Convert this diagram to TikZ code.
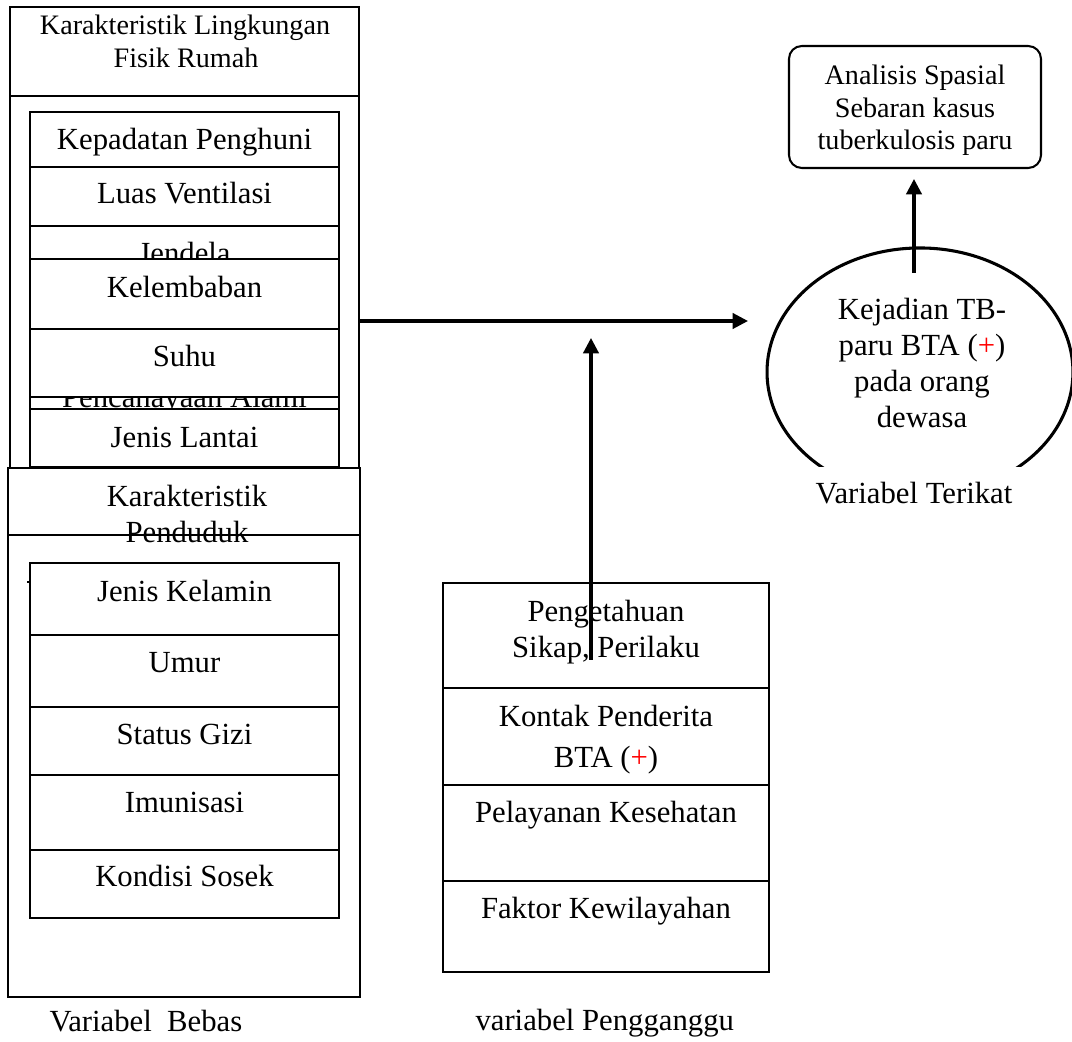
\documentclass[tikz,border=0pt]{standalone}
\usepackage{fontspec}
\setmainfont{Liberation Serif}
\usetikzlibrary{arrows.meta,fit,shapes.geometric}

\begin{document}
\begin{tikzpicture}[x=0.390625pt, y=-0.390625pt,
  box/.style={draw, line width=0.75pt, fill=white, inner sep=0pt},
  txt/.style={anchor=base, inner sep=0pt, font=\fontsize{12}{14}\selectfont},
  txts/.style={anchor=base, inner sep=0pt, font=\fontsize{11}{13}\selectfont},
  flow/.style={line width=1.2pt, -{Triangle[length=6pt,width=6pt]}},
  rule/.style={line width=0.75pt},
]
\useasboundingbox[fill=white] (0,0) rectangle (1072,1042);

% ---------- physical environment of the house ----------
\node[box, fit={(10,7)(359,470)}] (envbox) {};
\draw[rule] (10,96) -- (359,96);
\node[txts] (envhead1) at (185,35) {Karakteristik Lingkungan};
\node[txts] (envhead2) at (186,68) {Fisik Rumah};

\node[box, fit={(30,112)(339,167)}] (kepadatan) {};
\node[txt] (tkepadatan) at (184.5,150) {Kepadatan Penghuni};
\node[box, fit={(30,167)(339,226)}] (ventilasi) {};
\node[txt] (tventilasi) at (184.5,204) {Luas Ventilasi};
\node[box, fit={(30,226)(339,286)}] (jendela) {};
\node[txt] (tjendela) at (184.5,264) {Jendela};
\node[box, fit={(30,370)(339,430)}] (cahaya) {};
\node[txt] (tcahaya) at (184.5,408) {Pencahayaan Alami};
\node[box, fit={(30,259)(339,329)}] (lembab) {};
\node[txt] (tlembab) at (184.5,298) {Kelembaban};
\node[box, fit={(30,329)(339,397)}] (suhu) {};
\node[txt] (tsuhu) at (184.5,367) {Suhu};
\node[box, fit={(30,409)(339,467)}] (lantai) {};
\node[txt] (tlantai) at (184.5,448) {Jenis Lantai};

% ---------- population characteristics ----------
\node[box, fit={(8,468)(360,997)}] (popbox) {};
\node[txt] (pophead1) at (187,507) {Karakteristik};
\node[txt] (pophead2) at (187,543) {Penduduk};
\draw[rule] (8,535) -- (360,535);

\node[box, fit={(30,563)(339,635)}] (kelamin) {};
\node[txt] (tkelamin) at (184.5,602) {Jenis Kelamin};
\node[box, fit={(30,635)(339,707)}] (umur) {};
\node[txt] (tumur) at (184.5,673) {Umur};
\node[box, fit={(30,707)(339,775)}] (gizi) {};
\node[txt] (tgizi) at (184.5,745) {Status Gizi};
\node[box, fit={(30,775)(339,850)}] (imunisasi) {};
\node[txt] (timunisasi) at (184.5,813) {Imunisasi};
\node[box, fit={(30,850)(339,918)}] (sosek) {};
\node[txt] (tsosek) at (184.5,887) {Kondisi Sosek};
\draw[line width=0.6pt] (27,582) -- (30,582);

\node[txt, anchor=base west] (bebas) at (49,1032) {Variabel\ \ Bebas};

% ---------- confounding variables ----------
\node[box, fit={(443,583)(769,972)}] (gangbox) {};
\draw[rule] (443,688) -- (769,688);
\draw[rule] (443,785) -- (769,785);
\draw[rule] (443,881) -- (769,881);
\node[txt] (tpeng1) at (606,622) {Pengetahuan};
\node[txt] (tpeng2) at (606,658) {Sikap, Perilaku};
\node[txt] (tkontak1) at (606,727) {Kontak Penderita};
\node[txt] (tkontak2) at (606,768) {BTA (\textcolor{red}{+})};
\node[txt] (tlayan) at (606,823) {Pelayanan Kesehatan};
\node[txt] (twilayah) at (606,919) {Faktor Kewilayahan};

\node[txt, anchor=base west] (pengganggu) at (475,1030) {variabel Pengganggu};

% ---------- dependent variable ----------
\node[draw, ellipse, line width=1.2pt, inner sep=0pt,
      minimum width=119.5pt, minimum height=96.9pt] (kejadian) at (920,372) {};
\node[txt] (tkej1) at (922,320) {Kejadian TB-};
\node[txt] (tkej2) at (922,356) {paru BTA (\textcolor{red}{+})};
\node[txt] (tkej3) at (922,392) {pada orang};
\node[txt] (tkej4) at (922,428) {dewasa};
\node[fill=white, inner sep=0pt, fit={(760,467)(1072,545)}] (terikatcover) {};
\node[txt] (terikat) at (914,504) {Variabel Terikat};

% ---------- spatial analysis ----------
\node[draw, line width=0.8pt, rounded corners=5pt, inner sep=0pt,
      fit={(789,46)(1041,168)}] (analisis) {};
\node[txts] (tana1) at (915,85) {Analisis Spasial};
\node[txts] (tana2) at (915,118) {Sebaran kasus};
\node[txts] (tana3) at (915,150) {tuberkulosis paru};

% ---------- connectors ----------
\coordinate (flowstart) at (359,321);
\coordinate (flowend) at (748,321);
\draw[flow] (flowstart) -- (flowend);

\coordinate (gangfoot) at (591,660);
\coordinate (gangtip) at (591,338);
\draw[flow] (gangfoot) -- (gangtip);

\coordinate (risefoot) at (914,273);
\coordinate (risetip) at (914,179);
\draw[flow] (risefoot) -- (risetip);
\end{tikzpicture}
\end{document}
